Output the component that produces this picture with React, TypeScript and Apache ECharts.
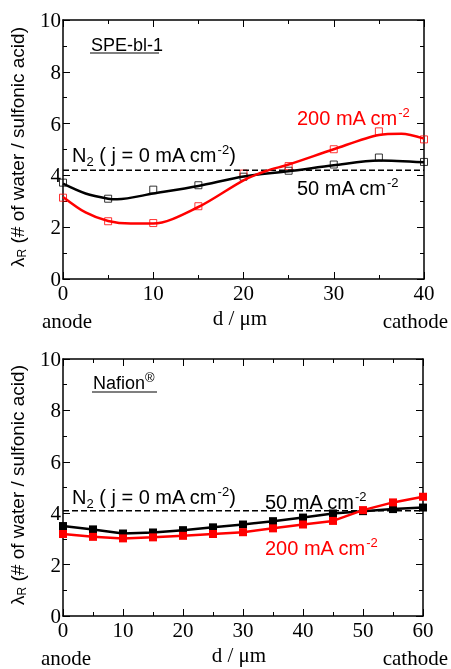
import React, { useEffect, useRef } from "react";
import * as echarts from "echarts";

// ---- Data ----
// SPE-bl-1 (top panel)
const xTop = [0, 5, 10, 15, 20, 25, 30, 35, 40];
const topBlack50 = [3.72, 3.1, 3.45, 3.62, 3.95, 4.18, 4.42, 4.69, 4.52];
const topRed200 = [3.14, 2.23, 2.16, 2.81, 4.07, 4.36, 5.01, 5.7, 5.39];
// fitted curves
const topBlackFitX = [0, 2.5, 5, 6, 10, 15, 20, 25, 30, 35, 40];
const topBlackFitY = [3.68, 3.3, 3.1, 3.08, 3.3, 3.59, 3.96, 4.16, 4.39, 4.58, 4.51];
const topRedFitX = [0, 2.5, 5, 7.5, 10, 15, 20, 22.5, 25, 30, 35, 37.5, 40];
const topRedFitY = [3.17, 2.57, 2.24, 2.14, 2.14, 2.78, 3.81, 4.17, 4.42, 5.01, 5.56, 5.61, 5.42];
const topN2 = 4.2;

// Nafion (bottom panel)
const xBottom = [0, 5, 10, 15, 20, 25, 30, 35, 40, 45, 50, 55, 60];
const botBlack50 = [3.5, 3.37, 3.21, 3.25, 3.34, 3.45, 3.56, 3.69, 3.83, 3.99, 4.08, 4.16, 4.22];
const botRed200 = [3.19, 3.08, 3.02, 3.06, 3.12, 3.19, 3.26, 3.41, 3.56, 3.7, 4.12, 4.42, 4.64];
const botN2 = 4.1;

const yTicks = { min: 0, max: 10, interval: 2 };
const topXMax = 40;
const botXMax = 60;

const zip = (xs: number[], ys: number[]) => xs.map((x, i) => [x, ys[i]]);

const SERIF = "Liberation Serif";
const SANS = "Liberation Sans";

const axisLabelStyle = (show: boolean, margin: number) => ({
  show,
  color: "#000",
  fontFamily: SERIF,
  fontSize: 21,
  margin,
});

const tickCommon = () => ({
  axisLine: { show: true, onZero: false, lineStyle: { color: "#000", width: 1.5 } },
  axisTick: { show: true, inside: true, length: 7, lineStyle: { color: "#000", width: 1 } },
  minorTick: { show: true, splitNumber: 2, length: 4, lineStyle: { color: "#000", width: 1 } },
  splitLine: { show: false },
  minorSplitLine: { show: false },
});

function App() {
  const ref = useRef<HTMLDivElement>(null);
  useEffect(() => {
    if (!ref.current) return;
    const chart = echarts.init(ref.current, null, { renderer: "svg" });

    const xAxisFor = (grid: number, max: number, pos: "bottom" | "top") => ({
      type: "value",
      gridIndex: grid,
      position: pos,
      min: 0,
      max,
      interval: 10,
      ...tickCommon(),
      axisLabel: axisLabelStyle(pos === "bottom", 3),
    });
    const yAxisFor = (grid: number, pos: "left" | "right") => ({
      type: "value",
      gridIndex: grid,
      position: pos,
      ...yTicks,
      ...tickCommon(),
      axisLabel: axisLabelStyle(pos === "left", 2),
    });

    const textEl = (x: number, y: number, text: string, color: string, fontSize = 20) => ({
      type: "text",
      x,
      y,
      style: {
        text,
        fill: color,
        fontSize,
        fontFamily: SANS,
        align: "left",
        verticalAlign: "middle",
        rich: {
          sub: { fontSize: 13, padding: [12, 0, 0, 0] },
          sup: { fontSize: 13, padding: [0, 0, 12, 0] },
        },
      },
    });

    const plainText = (x: number, y: number, text: string, align: string) => ({
      type: "text",
      x,
      y,
      style: { text, fill: "#000", fontSize: 21, fontFamily: SERIF, align, verticalAlign: "middle" },
    });

    const yTitle = (x: number, y: number) => ({
      type: "text",
      x,
      y,
      rotation: Math.PI / 2,
      style: {
        text: "λ{sub|R} (# of water / sulfonic acid)",
        fill: "#000",
        fontSize: 19,
        fontFamily: SANS,
        align: "center",
        verticalAlign: "middle",
        rich: {
          sub: { fontSize: 12, padding: [10, 0, 0, 0] },
        },
      },
    });

    const option: any = {
      animation: false,
      grid: [
        { left: 63, top: 20, width: 361, height: 259 },
        { left: 63, top: 359, width: 360, height: 257 },
      ],
      xAxis: [
        xAxisFor(0, topXMax, "bottom"),
        xAxisFor(0, topXMax, "top"),
        xAxisFor(1, botXMax, "bottom"),
        xAxisFor(1, botXMax, "top"),
      ],
      yAxis: [yAxisFor(0, "left"), yAxisFor(0, "right"), yAxisFor(1, "left"), yAxisFor(1, "right")],
      series: [
        // top panel
        {
          type: "line",
          xAxisIndex: 0,
          yAxisIndex: 0,
          data: [
            [0, topN2],
            [topXMax, topN2],
          ],
          symbol: "none",
          lineStyle: { color: "#000", width: 1.5, type: "dashed" },
          silent: true,
        },
        {
          type: "line",
          xAxisIndex: 0,
          yAxisIndex: 0,
          data: zip(topBlackFitX, topBlackFitY),
          smooth: 0.3,
          symbol: "none",
          lineStyle: { color: "#000", width: 2.5 },
        },
        {
          type: "line",
          xAxisIndex: 0,
          yAxisIndex: 0,
          data: zip(topRedFitX, topRedFitY),
          smooth: 0.3,
          symbol: "none",
          lineStyle: { color: "#ff0000", width: 2.5 },
        },
        {
          type: "scatter",
          xAxisIndex: 0,
          yAxisIndex: 0,
          data: zip(xTop, topBlack50),
          symbol: "rect",
          symbolSize: 7,
          itemStyle: { color: "rgba(255,255,255,0)", borderColor: "#000", borderWidth: 1 },
        },
        {
          type: "scatter",
          xAxisIndex: 0,
          yAxisIndex: 0,
          data: zip(xTop, topRed200),
          symbol: "rect",
          symbolSize: 7,
          itemStyle: { color: "rgba(255,255,255,0)", borderColor: "#ff0000", borderWidth: 1 },
        },
        // bottom panel
        {
          type: "line",
          xAxisIndex: 2,
          yAxisIndex: 2,
          data: [
            [0, botN2],
            [botXMax, botN2],
          ],
          symbol: "none",
          lineStyle: { color: "#000", width: 1.5, type: "dashed" },
          silent: true,
        },
        {
          type: "line",
          xAxisIndex: 2,
          yAxisIndex: 2,
          data: zip(xBottom, botBlack50),
          symbol: "rect",
          symbolSize: 8,
          showAllSymbol: true,
          itemStyle: { color: "#000" },
          lineStyle: { color: "#000", width: 2.5 },
        },
        {
          type: "line",
          xAxisIndex: 2,
          yAxisIndex: 2,
          data: zip(xBottom, botRed200),
          symbol: "rect",
          symbolSize: 8,
          showAllSymbol: true,
          itemStyle: { color: "#ff0000" },
          lineStyle: { color: "#ff0000", width: 2.5 },
        },
      ],
      graphic: [
        // top panel labels
        textEl(91, 45, "SPE-bl-1", "#000", 18),
        { type: "line", shape: { x1: 90, y1: 53, x2: 159, y2: 53 }, style: { stroke: "#000", lineWidth: 1.2 } },
        textEl(297, 118, "200 mA cm{sup|-2}", "#ff0000"),
        textEl(72, 155, "N{sub|2} ( j = 0 mA cm{sup|-2})", "#000"),
        textEl(297, 188, "50 mA cm{sup|-2}", "#000"),
        plainText(42, 321, "anode", "left"),
        plainText(240, 318, "d / μm", "center"),
        plainText(448, 321, "cathode", "right"),
        yTitle(17, 147),
        // bottom panel labels
        textEl(93, 383, "Nafion{sup|®}", "#000", 18),
        { type: "line", shape: { x1: 92, y1: 392, x2: 157, y2: 392 }, style: { stroke: "#000", lineWidth: 1.2 } },
        textEl(72, 497, "N{sub|2} ( j = 0 mA cm{sup|-2})", "#000"),
        textEl(265, 502, "50 mA cm{sup|-2}", "#000"),
        textEl(265, 548, "200 mA cm{sup|-2}", "#ff0000"),
        plainText(41, 658, "anode", "left"),
        plainText(239, 655, "d / μm", "center"),
        plainText(448, 658, "cathode", "right"),
        yTitle(17, 485),
      ],
    };
    chart.setOption(option);
    return () => chart.dispose();
  }, []);
  return <div ref={ref} style={{ position: "fixed", left: 0, top: 0, width: 451, height: 669 }} />;
}

export default App;
